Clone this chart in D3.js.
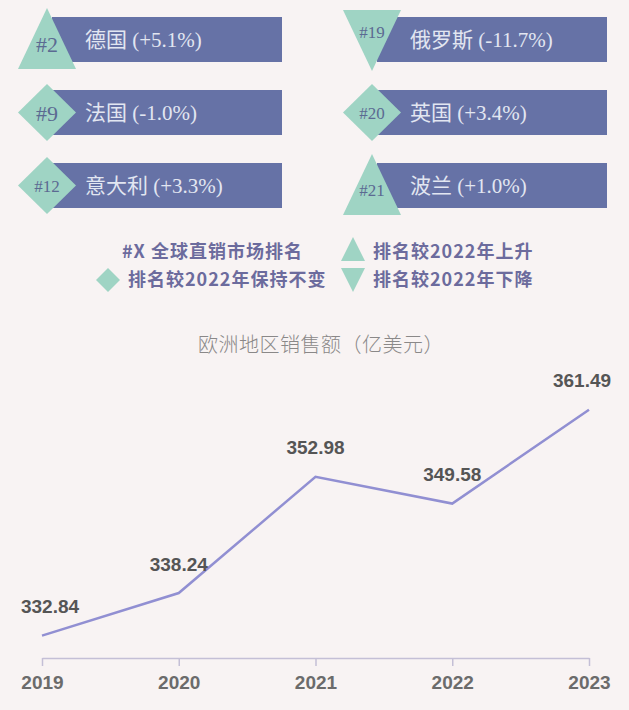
<!DOCTYPE html>
<html>
<head>
<meta charset="utf-8">
<script src="https://cdn.jsdelivr.net/npm/d3@7"></script>
<style>
  html, body { margin: 0; padding: 0; background: #f8f3f3; }
  svg { display: block; }
</style>
</head>
<body>
<svg id="chart" width="629" height="710"></svg>
<script>
const countries = ["德国", "法国", "意大利", "俄罗斯", "英国", "波兰"];
const changes = ["+5.1%", "-1.0%", "+3.3%", "-11.7%", "+3.4%", "+1.0%"];
const ranks = [2, 9, 12, 19, 20, 21];
const trends = ["up", "same", "same", "down", "same", "up"];

const legendItems = ["#X 全球直销市场排名", "排名较2022年上升", "排名较2022年保持不变", "排名较2022年下降"];

const years = ["2019", "2020", "2021", "2022", "2023"];
const sales = [332.84, 338.24, 352.98, 349.58, 361.49];
const chartTitle = "欧洲地区销售额（亿美元）";

const svg = d3.select("#chart");
const barColor = "#6672a6";
const teal = "#9fd4c4";
const cjk = "'Noto Sans CJK SC', sans-serif";
const serif = "'Liberation Serif', 'Noto Sans CJK SC', serif";

// shape paths centred on 0,0
function shapePath(type, w, h) {
  if (type === "up") return `M0,${-h}L${w},${h}L${-w},${h}Z`;
  if (type === "down") return `M${-w},${-h}L${w},${-h}L0,${h}Z`;
  return `M0,${-h}L${w},0L0,${h}L${-w},0Z`;
}

// ---- ranking cards ----
const colX = d3.scaleOrdinal().domain([0, 1]).range([47, 372]);
const rowY = d3.scaleBand().domain([0, 1, 2]).range([17, 208]).paddingInner(0.3836).paddingOuter(0);

const cards = svg.append("g")
  .selectAll("g")
  .data(countries.map((c, i) => ({ name: c, change: changes[i], rank: ranks[i], trend: trends[i], col: Math.floor(i / 3), row: i % 3 })))
  .enter().append("g")
  .attr("transform", d => `translate(${colX(d.col)},${rowY(d.row) + rowY.bandwidth() / 2})`);

cards.append("rect")
  .attr("x", 5)
  .attr("y", -rowY.bandwidth() / 2)
  .attr("width", 230)
  .attr("height", rowY.bandwidth())
  .attr("fill", barColor);

cards.append("path")
  .attr("d", d => shapePath(d.trend, 29, d.trend === "same" ? 28.5 : 30.5))
  .attr("transform", d => d.trend === "same" ? null : `translate(0,${d.trend === "up" ? -1 : 1})`)
  .attr("fill", teal);

cards.append("text")
  .attr("x", 0)
  .attr("y", d => d.trend === "up" ? 5 : d.trend === "down" ? -7 : 1)
  .attr("dy", "0.35em")
  .attr("text-anchor", "middle")
  .attr("font-family", serif)
  .attr("font-size", d => d.rank < 10 ? 22 : 17)
  .attr("fill", "#5b6a92")
  .text(d => "#" + d.rank);

cards.append("text")
  .attr("x", 38)
  .attr("y", 0)
  .attr("dy", "0.35em")
  .attr("font-family", serif)
  .attr("font-size", 21)
  .attr("fill", "#e2e6f1")
  .text(d => `${d.name} (${d.change})`);

// ---- legend ----
const legend = svg.append("g")
  .attr("font-family", cjk)
  .attr("font-weight", "bold")
  .attr("font-size", 18)
  .attr("letter-spacing", 1)
  .attr("fill", "#6c6b9d");

legend.append("text").attr("x", 122).attr("y", 258).text(legendItems[0]);
legend.append("path").attr("d", shapePath("up", 12, 12)).attr("transform", "translate(353,249)").attr("fill", teal);
legend.append("text").attr("x", 373).attr("y", 258).text(legendItems[1]);
legend.append("path").attr("d", shapePath("same", 12, 12)).attr("transform", "translate(108,280)").attr("fill", teal);
legend.append("text").attr("x", 128).attr("y", 286).text(legendItems[2]);
legend.append("path").attr("d", shapePath("down", 12, 12)).attr("transform", "translate(353,280)").attr("fill", teal);
legend.append("text").attr("x", 373).attr("y", 286).text(legendItems[3]);

// ---- line chart ----
const x = d3.scalePoint().domain(years).range([42, 589]);
const y = d3.scaleLinear().domain([330, 365]).range([658, 382]);

svg.append("text")
  .attr("x", 321)
  .attr("y", 352)
  .attr("text-anchor", "middle")
  .attr("font-family", cjk)
  .attr("font-size", 20)
  .attr("font-weight", 300)
  .attr("letter-spacing", 0.5)
  .attr("fill", "#8a8888")
  .text(chartTitle);

const xAxis = svg.append("g")
  .attr("transform", `translate(0,${y(330)})`)
  .call(d3.axisBottom(x).tickSize(8).tickSizeOuter(0).tickPadding(10));

xAxis.select(".domain").attr("stroke", "#c4bfd6").attr("stroke-width", 1.5);
xAxis.selectAll(".tick line").attr("stroke", "#c4bfd6").attr("stroke-width", 1.5);
xAxis.selectAll(".tick text")
  .attr("font-family", "'Liberation Sans', sans-serif")
  .attr("font-size", 19)
  .attr("font-weight", "bold")
  .attr("fill", "#6b6b6b");

const line = d3.line()
  .x((d, i) => x(years[i]))
  .y(d => y(d));

svg.append("path")
  .datum(sales)
  .attr("d", line)
  .attr("fill", "none")
  .attr("stroke", "#918fd2")
  .attr("stroke-width", 2.5);

svg.append("g")
  .selectAll("text")
  .data(sales)
  .enter().append("text")
  .attr("x", (d, i) => Math.min(Math.max(x(years[i]), 50), 582))
  .attr("y", d => y(d) - 29)
  .attr("dy", "0.35em")
  .attr("text-anchor", "middle")
  .attr("font-family", "'Liberation Sans', sans-serif")
  .attr("font-size", 19)
  .attr("font-weight", "bold")
  .attr("fill", "#555555")
  .text(d => d.toFixed(2));
</script>
</body>
</html>
